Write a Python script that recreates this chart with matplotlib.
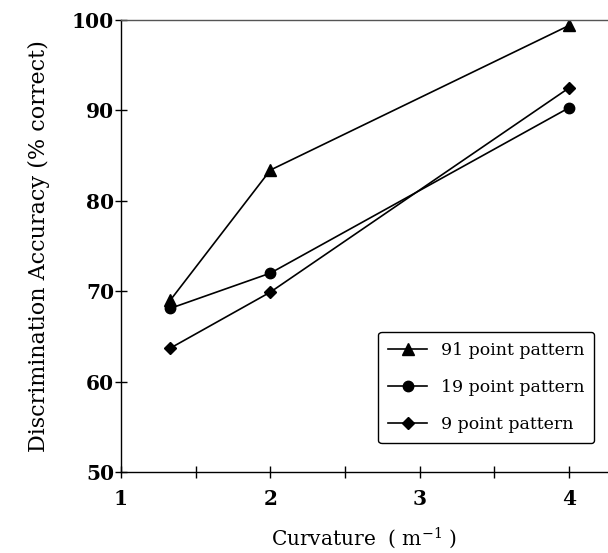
import matplotlib
matplotlib.use("Agg")
import matplotlib.pyplot as plt

# curvature (1/m) and accuracy (% correct)
curvature = [1.33, 2.0, 4.0]
acc_91 = [69.0, 83.4, 99.4]
acc_19 = [68.1, 72.0, 90.3]
acc_9 = [63.7, 69.9, 92.5]
labels = ["91 point pattern", "19 point pattern", "9 point pattern"]
x_ticks = [1, 2, 3, 4]
y_ticks = [50, 60, 70, 80, 90, 100]


def main() -> None:
    plt.rcParams["font.family"] = ["DejaVu Serif"]
    plt.rcParams["mathtext.fontset"] = "dejavuserif"

    fig = plt.figure(figsize=(6.08, 5.53), dpi=100)
    ax = fig.add_axes([0.199, 0.1465, 0.801, 0.8173])

    style = dict(color="black", lw=1.2)
    ax.plot(curvature, acc_91, marker="^", ms=8, label=labels[0], **style)
    ax.plot(curvature, acc_19, marker="o", ms=7.5, label=labels[1], **style)
    ax.plot(curvature, acc_9, marker="D", ms=6, label=labels[2], **style)

    ax.set_xlim(1, 4.26)
    ax.set_ylim(50, 100)
    ax.set_xticks(x_ticks)
    ax.set_xticks([1.5, 2.5, 3.5], minor=True)
    ax.set_yticks(y_ticks)
    ax.tick_params(which="both", direction="inout", length=8, width=1.0, labelsize=14.5, pad=1)
    ax.tick_params(axis="x", pad=8)
    for lab in ax.get_xticklabels() + ax.get_yticklabels():
        lab.set_fontweight("bold")
    ax.spines["right"].set_visible(False)
    for side in ("left", "bottom", "top"):
        ax.spines[side].set_linewidth(1.0)
    ax.spines["top"].set_color("#555555")

    ax.set_xlabel("Curvature  ( m$^{-1}$ )", fontsize=14.5, labelpad=12)
    ax.set_ylabel("Discrimination Accuracy (% correct)", fontsize=16, labelpad=16)

    leg = ax.legend(loc="upper right", bbox_to_anchor=(0.99, 0.33), fontsize=12.5,
                    handlelength=2.2, labelspacing=1.15, borderpad=0.6,
                    fancybox=True, framealpha=1, edgecolor="black")
    leg.get_frame().set_linewidth(1.0)

    fig.savefig("out.png", dpi=100)


if __name__ == "__main__":
    main()
